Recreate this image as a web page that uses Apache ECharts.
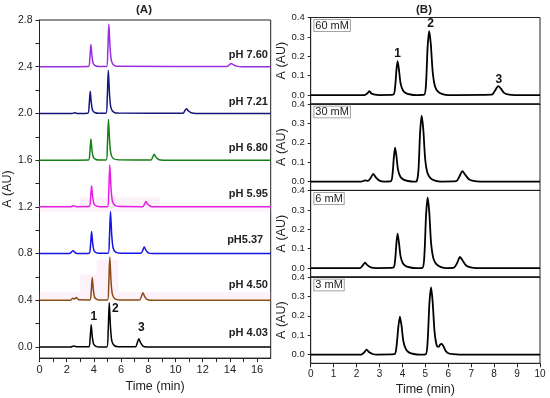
<!DOCTYPE html>
<html><head><meta charset="utf-8">
<script src="https://cdn.jsdelivr.net/npm/echarts@6/dist/echarts.min.js"></script>
<style>html,body{margin:0;padding:0;background:#fff}#c{width:550px;height:398px}</style>
</head><body><div id="c"></div>
<script>
// ---------- Panel A data (raw absorbance, stacked by offset) ----------
const pHLabels = ['pH 7.60','pH 7.21','pH 6.80','pH 5.95','pH5.37','pH 4.50','pH 4.03'];
const pHOffsets = [2.4, 2.0, 1.6, 1.2, 0.8, 0.4, 0.0];
const pHLabelX = [16.8, 16.8, 16.8, 16.8, 16.45, 16.8, 16.8];
const pHLabelY = [2.50, 2.10, 1.70, 1.31, 0.92, 0.53, 0.12];

const trace760 = [[0,0],[3.6,0.002],[3.7,0.07],[3.78,0.19],[3.86,0.09],[3.96,0.025],[4.15,0.006],[4.4,0.002],[4.93,0.002],[5.02,0.13],[5.1,0.365],[5.19,0.16],[5.29,0.05],[5.48,0.012],[5.85,0.003],[13.8,0.002],[13.97,0.018],[14.1,0.028],[14.27,0.016],[14.5,0.005],[14.9,0],[17,0]];
const trace721 = [[0,0],[2.4,0],[2.57,0.006],[2.75,0],[3.55,0.002],[3.65,0.07],[3.73,0.19],[3.81,0.09],[3.91,0.025],[4.1,0.006],[4.35,0.002],[4.89,0.002],[4.98,0.13],[5.06,0.37],[5.15,0.16],[5.25,0.05],[5.45,0.012],[5.8,0.003],[10.55,0.002],[10.7,0.025],[10.8,0.04],[10.95,0.022],[11.15,0.006],[11.5,0],[17,0]];
const trace680 = [[0,0],[3.6,0.002],[3.7,0.065],[3.78,0.18],[3.86,0.085],[3.96,0.024],[4.15,0.006],[4.4,0.002],[4.9,0.002],[4.99,0.12],[5.07,0.35],[5.16,0.155],[5.26,0.05],[5.45,0.012],[5.8,0.003],[8.2,0.002],[8.33,0.028],[8.43,0.05],[8.56,0.027],[8.75,0.006],[9.1,0],[17,0]];
const trace595 = [[0,0],[2.3,0],[2.5,0.01],[2.7,0.002],[3.65,0.003],[3.75,0.065],[3.83,0.18],[3.91,0.085],[4.01,0.024],[4.2,0.006],[4.5,0.002],[5.0,0.002],[5.09,0.13],[5.17,0.36],[5.26,0.16],[5.36,0.05],[5.55,0.012],[5.9,0.003],[7.6,0.002],[7.73,0.025],[7.83,0.045],[7.95,0.024],[8.15,0.005],[8.45,0],[17,0]];
const trace537 = [[0,0],[2.2,0],[2.46,0.025],[2.65,0.005],[2.9,0],[3.65,0.003],[3.75,0.07],[3.83,0.19],[3.91,0.09],[4.01,0.025],[4.2,0.006],[4.5,0.002],[5.05,0.002],[5.14,0.13],[5.22,0.36],[5.31,0.16],[5.41,0.05],[5.6,0.012],[5.95,0.003],[7.45,0.002],[7.6,0.03],[7.7,0.057],[7.82,0.03],[8.0,0.006],[8.3,0],[17,0]];
const trace450 = [[0,0],[2.25,0],[2.46,0.018],[2.58,0.01],[2.7,0.024],[2.9,0.004],[3.7,0.003],[3.8,0.07],[3.88,0.195],[3.96,0.09],[4.06,0.025],[4.25,0.006],[4.5,0.002],[5.0,0.002],[5.09,0.13],[5.17,0.37],[5.26,0.16],[5.36,0.05],[5.55,0.012],[5.9,0.003],[7.35,0.002],[7.5,0.035],[7.6,0.065],[7.72,0.035],[7.9,0.007],[8.2,0],[17,0]];
const trace403 = [[0,0],[2.3,0],[2.5,0.008],[2.8,0.002],[3.62,0.002],[3.72,0.07],[3.8,0.19],[3.88,0.09],[3.98,0.025],[4.15,0.006],[4.4,0.001],[4.95,0.001],[5.05,0.14],[5.13,0.38],[5.22,0.17],[5.32,0.05],[5.5,0.012],[5.8,0.003],[7.05,0.002],[7.2,0.04],[7.3,0.07],[7.42,0.04],[7.6,0.008],[7.9,0],[17,0]];
const tracesA = [trace760, trace721, trace680, trace595, trace537, trace450, trace403];

const peakNumsA = ['1','2','3'];
const peakNumAX = [4.0, 5.57, 7.49];
const peakNumAY = [0.262, 0.33, 0.164];

// ---------- Panel B data ----------
const concLabels = ['60 mM','30 mM','6 mM','3 mM'];
const trace60 = [[0,0],[2.35,0],[2.48,0.01],[2.56,0.02],[2.65,0.008],[2.8,0.002],[3.0,0],[3.6,0.002],[3.68,0.04],[3.74,0.13],[3.79,0.175],[3.85,0.13],[3.92,0.06],[4.02,0.025],[4.15,0.01],[4.35,0.003],[4.6,0],[4.95,0.002],[5.03,0.06],[5.1,0.25],[5.17,0.33],[5.24,0.26],[5.32,0.12],[5.42,0.045],[5.55,0.018],[5.75,0.005],[6.0,0],[7.9,0.002],[8.02,0.02],[8.18,0.046],[8.3,0.032],[8.45,0.01],[8.65,0.002],[8.9,0],[10,0]];
const trace30 = [[0,0],[2.2,0],[2.37,0.006],[2.5,0.004],[2.62,0.02],[2.73,0.04],[2.85,0.02],[3.0,0.005],[3.2,0],[3.5,0.002],[3.57,0.04],[3.63,0.13],[3.68,0.175],[3.74,0.13],[3.81,0.06],[3.91,0.025],[4.05,0.01],[4.25,0.003],[4.5,0],[4.62,0.002],[4.7,0.06],[4.77,0.25],[4.84,0.34],[4.91,0.27],[4.99,0.12],[5.09,0.045],[5.22,0.018],[5.42,0.005],[5.7,0],[6.35,0.002],[6.48,0.025],[6.62,0.054],[6.74,0.035],[6.9,0.012],[7.1,0.003],[7.4,0],[10,0]];
const trace6 = [[0,0],[2.15,0],[2.28,0.015],[2.37,0.028],[2.47,0.015],[2.62,0.004],[2.85,0],[3.6,0.002],[3.68,0.04],[3.74,0.13],[3.79,0.177],[3.85,0.13],[3.92,0.06],[4.02,0.025],[4.15,0.01],[4.35,0.003],[4.6,0],[4.88,0.002],[4.96,0.07],[5.03,0.27],[5.1,0.364],[5.17,0.29],[5.25,0.13],[5.35,0.05],[5.48,0.02],[5.68,0.005],[5.95,0],[6.25,0.002],[6.38,0.025],[6.51,0.057],[6.63,0.038],[6.78,0.013],[6.98,0.003],[7.25,0],[10,0]];
const trace3 = [[0,0],[2.2,0],[2.34,0.012],[2.44,0.026],[2.54,0.013],[2.7,0.003],[2.9,0],[3.65,0.002],[3.74,0.04],[3.82,0.14],[3.89,0.196],[3.96,0.15],[4.04,0.07],[4.15,0.028],[4.3,0.01],[4.5,0.003],[4.75,0],[5.02,0.002],[5.1,0.07],[5.18,0.27],[5.25,0.347],[5.32,0.27],[5.4,0.12],[5.5,0.045],[5.58,0.04],[5.65,0.052],[5.71,0.055],[5.78,0.045],[5.88,0.02],[6.0,0.007],[6.2,0.002],[6.5,0],[10,0]];
const tracesB = [trace60, trace30, trace6, trace3];

const peakNumsB = ['1','2','3'];
const peakNumBX = [3.79, 5.23, 8.21];
const peakNumBY = [0.215, 0.366, 0.077];

// ---------- tick values ----------
const xLabelsA = [0,2,4,6,8,10,12,14,16];
const xTicksA = [0,1,2,3,4,5,6,7,8,9,10,11,12,13,14,15,16];
const yLabelsA = [0,0.4,0.8,1.2,1.6,2.0,2.4,2.8];
const yTicksA = [0,0.2,0.4,0.6,0.8,1.0,1.2,1.4,1.6,1.8,2.0,2.2,2.4,2.6,2.8];
const xLabelsB = [0,1,2,3,4,5,6,7,8,9,10];
const yLabelsB = [0,0.1,0.2,0.3,0.4];

// pink shading regions (artefacts in original figure), data coords
const pinkAreas = [
  [[0,1.16],[17,1.211]], [[3.0,1.211],[8.87,1.28]],
  [[0,0.414],[17,0.47]], [[3.0,0.47],[4.22,0.62]], [[4.22,0.47],[5.81,0.75]]
];

// ---------- styling ----------
const FONT = "'Liberation Sans', Arial, sans-serif";
const INK = '#222';
const colorsA = ['#9a2ee0','#16167a','#168016','#e61ee6','#1414e6','#8b4a14','#000000'];

const chart = echarts.init(document.getElementById('c'), null, {renderer:'canvas'});

const grids = [{left:38.7, top:20, width:232, height:343, show:true, borderColor:INK, borderWidth:1}];
const bTops = [17.5, 104, 190.5, 277];
bTops.forEach(t => grids.push({left:310.7, top:t, width:229.3, height:86.3, show:true, borderColor:INK, borderWidth:1}));

const fmt1 = v => v.toFixed(1);

const xAxes = [{
  gridIndex:0, type:'value', min:0, max:17,
  axisLine:{show:true, onZero:false, lineStyle:{color:INK, width:1}},
  axisTick:{show:true, customValues:xTicksA, length:4, lineStyle:{color:INK}},
  axisLabel:{customValues:xLabelsA, fontSize:11, color:INK, margin:6, fontFamily:FONT},
  splitLine:{show:false},
  name:'Time (min)', nameLocation:'middle', nameGap:20,
  nameTextStyle:{fontSize:12.5, color:INK, fontFamily:FONT}
}];
const yAxes = [{
  gridIndex:0, type:'value', min:-0.095, max:2.8,
  axisLine:{show:true, onZero:false, lineStyle:{color:INK, width:1}},
  axisTick:{show:true, customValues:yTicksA, length:4, lineStyle:{color:INK}},
  axisLabel:{customValues:yLabelsA, formatter:fmt1, fontSize:10.5, color:INK, margin:7, fontFamily:FONT},
  splitLine:{show:false},
  name:'A (AU)', nameLocation:'middle', nameGap:23, nameRotate:90,
  nameTextStyle:{fontSize:12.5, color:INK, fontFamily:FONT}
}];
for (let i = 0; i < 4; i++) {
  const last = i === 3;
  xAxes.push({
    gridIndex:i+1, type:'value', min:0, max:10,
    axisLine:{show:true, onZero:false, lineStyle:{color:INK, width:1}},
    axisTick:{show:last, customValues:xLabelsB, length:4, lineStyle:{color:INK}},
    axisLabel:{show:last, customValues:xLabelsB, fontSize:10, color:INK, margin:6, fontFamily:FONT},
    splitLine:{show:false},
    name:last ? 'Time (min)' : '', nameLocation:'middle', nameGap:20,
    nameTextStyle:{fontSize:12.5, color:INK, fontFamily:FONT}
  });
  yAxes.push({
    gridIndex:i+1, type:'value', min:-0.045, max:0.4,
    axisLine:{show:true, onZero:false, lineStyle:{color:INK, width:1}},
    axisTick:{show:true, customValues:yLabelsB, length:3, lineStyle:{color:INK}},
    axisLabel:{customValues:yLabelsB, formatter:fmt1, fontSize:9.5, color:INK, margin:6, fontFamily:FONT},
    splitLine:{show:false},
    name:'A (AU)', nameLocation:'middle', nameGap:17, nameRotate:90,
    nameTextStyle:{fontSize:12.5, color:INK, fontFamily:FONT}
  });
}

const series = [];
tracesA.forEach((tr, i) => {
  series.push({
    type:'line', xAxisIndex:0, yAxisIndex:0,
    data: tr.map(p => [p[0], p[1] + pHOffsets[i]]),
    showSymbol:false, symbol:'none', smooth:0.25,
    lineStyle:{color:colorsA[i], width:1.5},
    z: 3, silent:true, animation:false
  });
});
// pink areas behind traces
series.push({
  type:'line', xAxisIndex:0, yAxisIndex:0, data:[[0,-1]], showSymbol:false, symbol:'none',
  lineStyle:{opacity:0}, z:1, silent:true, animation:false,
  markArea:{silent:true, itemStyle:{color:'rgba(248,200,234,0.26)'},
    data: pinkAreas.map(a => [{coord:a[0]},{coord:a[1]}])}
});
tracesB.forEach((tr, i) => {
  series.push({
    type:'line', xAxisIndex:i+1, yAxisIndex:i+1,
    data: tr, showSymbol:false, symbol:'none', smooth:0.25,
    lineStyle:{color:'#000', width:1.8}, z:3, silent:true, animation:false
  });
});

chart.setOption({
  animation:false,
  backgroundColor:'#fff',
  textStyle:{fontFamily:FONT},
  grid:grids, xAxis:xAxes, yAxis:yAxes, series:series
});

// ---------- annotations ----------
const g = [];
const txt = (x, y, text, opt) => Object.assign({type:'text', silent:true, z:10,
  style:Object.assign({x, y, text, fill:INK, font:'bold 11px ' + FONT, align:'center', verticalAlign:'middle'}, opt || {})});

g.push(txt(144, 10, '(A)', {font:'bold 11.5px ' + FONT}));
g.push(txt(424, 10, '(B)', {font:'bold 11.5px ' + FONT}));

pHLabels.forEach((lab, i) => {
  const p = chart.convertToPixel({gridIndex:0}, [pHLabelX[i], pHLabelY[i]]);
  g.push(txt(p[0], p[1], lab, {align:'right'}));
});
peakNumsA.forEach((lab, i) => {
  const p = chart.convertToPixel({gridIndex:0}, [peakNumAX[i], peakNumAY[i]]);
  g.push(txt(p[0], p[1], lab, {font:'bold 12px ' + FONT, fill:'#111'}));
});
peakNumsB.forEach((lab, i) => {
  const p = chart.convertToPixel({gridIndex:1}, [peakNumBX[i], peakNumBY[i]]);
  g.push(txt(p[0], p[1], lab, {font:'bold 12px ' + FONT, fill:'#111'}));
});
concLabels.forEach((lab, i) => {
  const p = chart.convertToPixel({gridIndex:i+1}, [0, 0.4]);
  g.push({type:'text', silent:true, z:10, style:{
    x:p[0] + 3.6, y:p[1] + 2.5, text:lab, fill:INK, font:'11px ' + FONT,
    align:'left', verticalAlign:'top', backgroundColor:'#fff',
    borderColor:'#888', borderWidth:0.8, padding:[0,1,0,1]
  }});
});
chart.setOption({graphic:g});
</script>
</body></html>
